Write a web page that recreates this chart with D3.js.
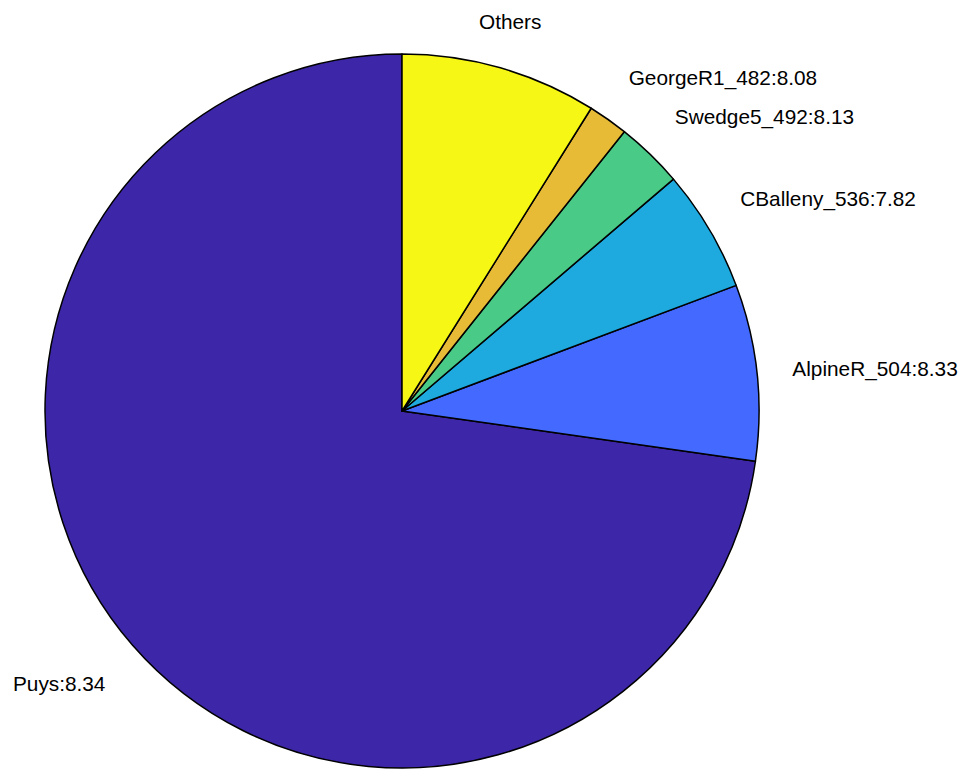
<!DOCTYPE html>
<html><head><meta charset="utf-8">
<script src="https://cdn.jsdelivr.net/npm/d3@7"></script>
<style>html,body{margin:0;padding:0;background:#fff;}svg{display:block;}</style>
</head><body>
<script>
// Data (MATLAB pie order: counter-clockwise from 12 o'clock)
const labels = ["Puys:8.34", "AlpineR_504:8.33", "CBalleny_536:7.82", "Swedge5_492:8.13", "GeorgeR1_482:8.08", "Others"];
const values = [72.76, 7.97, 5.53, 3.05, 1.81, 8.89];
const colors = ["#3D27A8", "#4369FE", "#1EA9DF", "#49CA87", "#E8BB37", "#F7F715"];

const W = 967, H = 769;
const cx = 402, cy = 411, R = 357;

const svg = d3.select("body").append("svg").attr("width", W).attr("height", H);
const g = svg.append("g").attr("transform", `translate(${cx},${cy})`);

// counter-clockwise: use negative angles
const pie = d3.pie().sort(null).value(d => d.v).startAngle(0).endAngle(-2 * Math.PI);
const data = labels.map((l, i) => ({ l, v: values[i], c: colors[i] }));
const arcs = pie(data);
const arc = d3.arc().innerRadius(0).outerRadius(R);

g.selectAll("path").data(arcs).join("path")
  .attr("d", arc)
  .attr("fill", d => d.data.c)
  .attr("stroke", "#000")
  .attr("stroke-width", 1.5)
  .attr("stroke-linejoin", "round");

const lr = R * 1.1;
g.selectAll("text").data(arcs).join("text")
  .each(function (d) {
    const a = (d.startAngle + d.endAngle) / 2;
    const s = Math.sin(a), c = Math.cos(a);
    const x = lr * s, y = -lr * c;
    let anchor = Math.abs(s) < 0.3 ? "middle" : (s > 0 ? "start" : "end");
    let by;
    if (c > 0.2) by = y - 5;
    else if (c < -0.2) by = y + 23;
    else by = y + 7.5;
    d3.select(this)
      .attr("x", x).attr("y", by)
      .attr("text-anchor", anchor)
      .attr("font-family", "'Liberation Sans', Arial, Helvetica, sans-serif")
      .attr("font-size", 20.8)
      .attr("fill", "#000")
      .text(d.data.l);
  });
</script>
</body></html>
